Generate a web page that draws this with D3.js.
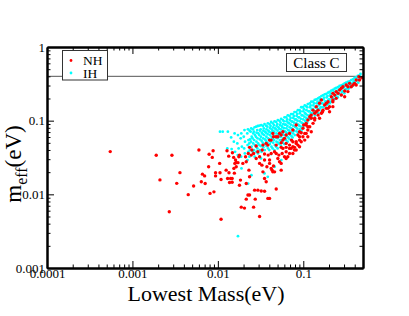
<!DOCTYPE html>
<html>
<head>
<meta charset="utf-8">
<script src="https://cdn.jsdelivr.net/npm/d3@7"></script>
<style>
  html, body { margin: 0; padding: 0; background: #fff; }
  svg { display: block; font-family: "Liberation Serif", "DejaVu Serif", serif; }
</style>
</head>
<body>
<div id="chart"></div>
<script>
// [lowest mass (eV), m_eff (eV)]
const nhPoints = [
  [0.00055,0.038],[0.0019,0.034],[0.0029,0.034],[0.0021,0.0157],[0.0036,0.0197],[0.0033,0.0141],
  [0.0052,0.013],[0.0045,0.0099],[0.0027,0.0058],[0.006,0.040],[0.0079,0.035],[0.0086,0.0317],
  [0.0088,0.039],[0.0078,0.0237],[0.0066,0.0188],[0.0070,0.0178],[0.0064,0.0148],[0.0071,0.014],
  [0.0081,0.0103],[0.009,0.0108],[0.0094,0.0196],[0.0094,0.0178],
  [0.0105,0.0263],[0.0106,0.0196],[0.0109,0.0159],[0.0109,0.0046],[0.0125,0.0213],[0.0128,0.039],
  [0.0134,0.033],[0.0148,0.0366],[0.0153,0.0317],[0.0161,0.0292],[0.0164,0.0271],[0.0158,0.0263],
  [0.0176,0.0324],[0.0154,0.0225],[0.0135,0.0196],[0.013,0.0164],[0.0141,0.0164],[0.0147,0.0164],
  [0.0137,0.0145],
  [0.0179,0.0341],[0.0172,0.0269],[0.0196,0.0263],[0.0164,0.0237],[0.0156,0.0194],[0.0147,0.0146],
  [0.0184,0.0156],[0.0179,0.0133],[0.0215,0.014],[0.0235,0.0173],[0.0231,0.0213],[0.0211,0.0324],
  [0.0227,0.0359],[0.0262,0.0359],[0.0281,0.0307],[0.0294,0.0378],[0.0308,0.0263],[0.0337,0.0202],
  [0.0352,0.0164],[0.0368,0.0148],[0.0328,0.0249],[0.0403,0.0263],[0.0421,0.0225],[0.044,0.0202],
  [0.0482,0.0359],[0.0504,0.0307],[0.0527,0.0277],[0.0551,0.0263],[0.0566,0.0359],[0.0577,0.042],
  [0.063,0.0378],[0.0659,0.0324],[0.069,0.042],[0.0755,0.0443],[0.0789,0.0399],[0.0826,0.0491],
  [0.0728,0.0545],[0.0577,0.0545],[0.0527,0.0672],[0.0482,0.0605],[0.044,0.0672],[0.0403,0.0545],
  [0.0368,0.0491],[0.0337,0.0466],[0.0269,0.0114],[0.0294,0.0114],[0.0322,0.0111],[0.0352,0.011],
  [0.0235,0.0098],[0.0225,0.0098],[0.0215,0.0086],[0.0188,0.0067],[0.0205,0.0065],[0.0262,0.0067],
  [0.0403,0.0088],[0.0308,0.005],[0.0274,0.0086],[0.0482,0.0118],[0.0385,0.0088],
  [0.0235,0.0434],[0.025,0.0399],[0.0281,0.0452],[0.0331,0.0399],[0.0352,0.0352],[0.0403,0.0292],
  [0.0448,0.0242],[0.0432,0.0213],[0.0461,0.0202],[0.0551,0.0213],[0.0603,0.0324],[0.0721,0.042],
  [0.0755,0.0518],[0.0864,0.0638],[0.0904,0.0605],[0.0946,0.0686],[0.099,0.0786],[0.101,0.0872],
  [0.108,0.0919],[0.113,0.102],[0.119,0.113],[0.124,0.119],[0.130,0.139],[0.142,0.155],
  [0.155,0.172],[0.163,0.191],[0.186,0.172],[0.195,0.147],[0.203,0.132],[0.213,0.211],
  [0.222,0.235],[0.243,0.248],[0.266,0.261],[0.279,0.275],[0.291,0.289],[0.318,0.305],
  [0.348,0.321],[0.364,0.289],[0.416,0.356],[0.447,0.396],[0.243,0.201],[0.222,0.181],
  [0.168,0.132],[0.136,0.108],[0.113,0.0828],[0.104,0.0545],[0.0946,0.0518],[0.0789,0.0434],
  [0.0826,0.0399],[0.0755,0.0359],[0.063,0.0307],[0.0375,0.0237],[0.0352,0.0292],[0.0308,0.0324],
  [0.0246,0.0341],[0.0215,0.0277],[0.0385,0.0466],[0.0421,0.0545],[0.0448,0.0605],[0.0504,0.0605],
  [0.0551,0.0502],[0.0482,0.0466],[0.0551,0.0434],[0.063,0.0434],[0.0518,0.0341],[0.0461,0.0378],
  [0.0421,0.0359],[0.0388,0.0341],[0.0826,0.0872],[0.0755,0.0746],[0.069,0.0672],[0.063,0.0638],
  [0.0577,0.0708],[0.0603,0.0575],[0.0551,0.0638],
  [0.381,0.305],[0.333,0.289],[0.305,0.253],[0.255,0.235],[0.233,0.223],[0.195,0.181],
  [0.203,0.155],[0.186,0.147],[0.178,0.163],[0.170,0.139],[0.163,0.126],[0.149,0.119],
  [0.142,0.132],[0.155,0.108],[0.136,0.102],[0.130,0.0919],[0.124,0.108],[0.119,0.0828],
  [0.113,0.0746],[0.108,0.0872],[0.104,0.0672],[0.099,0.0605],[0.0904,0.0545],[0.0904,0.0708],
  [0.0826,0.0518],[0.069,0.0466],[0.113,0.0605],[0.124,0.0708],[0.485,0.381],[0.455,0.356],
  [0.398,0.321],[0.333,0.248],[0.279,0.223],[0.222,0.191],[0.149,0.139],[0.136,0.126],
  [0.0904,0.0443],[0.0864,0.0466],[0.063,0.0491],[0.069,0.0359],[0.222,0.155],[0.108,0.0672],
  [0.305,0.211],[0.416,0.305]
];

const ihPoints = [
  [0.0106,0.0708],[0.0114,0.0708],[0.0131,0.0708],[0.0129,0.0420],[0.0143,0.0593],[0.0145,0.0411],
  [0.0157,0.0672],[0.0154,0.0518],[0.0159,0.0378],
  [0.0172,0.0638],[0.0169,0.0491],[0.0175,0.0420],[0.0171,0.0341],
  [0.0188,0.0672],[0.0185,0.0575],[0.0191,0.0443],[0.0187,0.0324],[0.0189,0.0225],
  [0.0205,0.0746],[0.0201,0.0605],[0.0208,0.0518],[0.0203,0.0420],[0.0207,0.0359],
  [0.0225,0.0762],[0.0221,0.0672],[0.0228,0.0545],[0.0223,0.0466],[0.0227,0.0378],[0.0222,0.0292],[0.0226,0.0140],
  [0.0246,0.0786],[0.0242,0.0708],[0.0249,0.0605],[0.0244,0.0518],[0.0248,0.0443],[0.0243,0.0341],[0.0247,0.0182],
  [0.0269,0.0811],[0.0264,0.0708],[0.0272,0.0638],[0.0266,0.0545],[0.0271,0.0466],[0.0265,0.0399],[0.0270,0.0324],
  [0.0294,0.0846],[0.0289,0.0746],[0.0298,0.0672],[0.0291,0.0575],[0.0296,0.0491],[0.0290,0.0420],[0.0295,0.0359],
  [0.0322,0.0872],[0.0317,0.0762],[0.0326,0.0686],[0.0319,0.0605],[0.0325,0.0534],[0.0318,0.0452],[0.0324,0.0378],[0.0320,0.0307],
  [0.0352,0.0900],[0.0346,0.0786],[0.0357,0.0708],[0.0349,0.0638],[0.0355,0.0557],[0.0348,0.0481],[0.0354,0.0399],[0.0351,0.0192],
  [0.0385,0.0919],[0.0379,0.0828],[0.0390,0.0731],[0.0382,0.0659],[0.0388,0.0575],[0.0380,0.0502],[0.0387,0.0420],[0.0384,0.0173],
  [0.0421,0.0960],[0.0414,0.0846],[0.0427,0.0762],[0.0417,0.0686],[0.0425,0.0605],[0.0416,0.0518],[0.0424,0.0443],[0.0419,0.0352],
  [0.0461,0.0979],[0.0453,0.0872],[0.0467,0.0786],[0.0457,0.0708],[0.0465,0.0619],[0.0455,0.0545],[0.0464,0.0466],[0.0458,0.0399],[0.0462,0.0237],
  [0.0504,0.102],[0.0496,0.0900],[0.0511,0.0811],[0.0499,0.0731],[0.0509,0.0652],[0.0497,0.0575],[0.0507,0.0502],[0.0501,0.0420],
  [0.0551,0.106],[0.0542,0.0940],[0.0558,0.0846],[0.0546,0.0762],[0.0556,0.0686],[0.0544,0.0605],[0.0555,0.0534],[0.0548,0.0452],[0.0553,0.0292],
  [0.0603,0.111],[0.0594,0.0979],[0.0611,0.0881],[0.0597,0.0794],[0.0609,0.0716],[0.0596,0.0638],[0.0608,0.0557],[0.0600,0.0481],
  [0.0659,0.118],[0.0648,0.104],[0.0668,0.0940],[0.0652,0.0846],[0.0665,0.0746],[0.0650,0.0672],[0.0664,0.0593],[0.0655,0.0518],
  [0.0721,0.123],[0.0710,0.109],[0.0731,0.0979],[0.0714,0.0881],[0.0728,0.0786],[0.0712,0.0701],[0.0727,0.0619],[0.0716,0.0545],
  [0.0789,0.131],[0.0776,0.116],[0.0800,0.104],[0.0781,0.0940],[0.0797,0.0828],[0.0779,0.0731],[0.0795,0.0638],
  [0.0864,0.139],[0.0850,0.123],[0.0876,0.111],[0.0855,0.100],[0.0873,0.0881],[0.0852,0.0778],[0.0870,0.0686],
  [0.0946,0.152],[0.0930,0.134],[0.0959,0.118],[0.0936,0.106],[0.0955,0.0940],[0.0933,0.0828],[0.0952,0.0731],
  [0.104,0.161],[0.102,0.143],[0.105,0.126],[0.103,0.113],[0.105,0.100],[0.102,0.0881],
  [0.113,0.168],[0.111,0.152],[0.115,0.134],[0.112,0.119],[0.114,0.106],[0.111,0.0940],
  [0.124,0.181],[0.122,0.161],[0.126,0.143],[0.123,0.126],[0.125,0.111],
  [0.136,0.191],[0.134,0.172],[0.138,0.152],[0.135,0.134],[0.137,0.118],
  [0.149,0.201],[0.147,0.181],[0.151,0.161],[0.148,0.143],[0.150,0.126],
  [0.163,0.216],[0.160,0.195],[0.165,0.172],[0.161,0.152],[0.164,0.135],
  [0.178,0.228],[0.175,0.205],[0.180,0.181],[0.176,0.161],
  [0.195,0.240],[0.192,0.216],[0.197,0.191],[0.193,0.168],
  [0.213,0.255],[0.210,0.230],[0.216,0.203],[0.211,0.181],
  [0.233,0.272],[0.229,0.245],[0.236,0.216],[0.231,0.195],
  [0.255,0.284],[0.251,0.255],[0.258,0.230],[0.253,0.207],
  [0.279,0.302],[0.275,0.272],[0.283,0.245],[0.277,0.221],
  [0.305,0.321],[0.300,0.289],[0.309,0.261],[0.302,0.235],
  [0.333,0.335],[0.328,0.302],[0.337,0.272],
  [0.364,0.356],[0.359,0.321],[0.368,0.289],
  [0.398,0.380],[0.392,0.342],[0.402,0.308],
  [0.435,0.404],[0.429,0.364],[0.440,0.328],
  [0.467,0.430],[0.462,0.387],
  [0.0172,0.0027],
  // second pass, between the columns above
  [0.0235,0.0731],[0.0238,0.0557],[0.0233,0.0491],[0.0237,0.0399],[0.0234,0.0324],
  [0.0257,0.0762],[0.0260,0.0672],[0.0255,0.0575],[0.0259,0.0491],[0.0256,0.0378],
  [0.0281,0.0828],[0.0284,0.0686],[0.0279,0.0605],[0.0283,0.0518],[0.0280,0.0443],[0.0282,0.0378],
  [0.0308,0.0855],[0.0311,0.0731],[0.0305,0.0638],[0.0310,0.0557],[0.0306,0.0466],[0.0309,0.0399],
  [0.0337,0.0846],[0.0341,0.0731],[0.0334,0.0659],[0.0339,0.0575],[0.0335,0.0502],[0.0340,0.0434],
  [0.0368,0.0855],[0.0372,0.0762],[0.0365,0.0686],[0.0370,0.0605],[0.0366,0.0534],[0.0371,0.0452],
  [0.0403,0.0900],[0.0407,0.0794],[0.0399,0.0708],[0.0405,0.0638],[0.0401,0.0557],[0.0406,0.0481],[0.0400,0.0399],
  [0.0440,0.0919],[0.0445,0.0811],[0.0436,0.0731],[0.0443,0.0659],[0.0438,0.0575],[0.0444,0.0502],[0.0437,0.0420],
  [0.0482,0.0960],[0.0487,0.0846],[0.0478,0.0762],[0.0485,0.0672],[0.0479,0.0593],[0.0486,0.0518],[0.0480,0.0443],
  [0.0527,0.0995],[0.0533,0.0872],[0.0522,0.0778],[0.0530,0.0701],[0.0524,0.0619],[0.0531,0.0545],[0.0525,0.0481],
  [0.0577,0.102],[0.0583,0.0900],[0.0571,0.0811],[0.0580,0.0731],[0.0574,0.0659],[0.0581,0.0575],[0.0573,0.0502],
  [0.0630,0.111],[0.0637,0.0979],[0.0624,0.0881],[0.0634,0.0786],[0.0626,0.0701],[0.0635,0.0619],[0.0627,0.0545],
  [0.0690,0.116],[0.0697,0.102],[0.0683,0.0919],[0.0694,0.0811],[0.0686,0.0731],[0.0695,0.0645],[0.0685,0.0569],
  [0.0755,0.123],[0.0763,0.109],[0.0747,0.0970],[0.0760,0.0855],[0.0750,0.0762],[0.0761,0.0672],[0.0749,0.0593],
  [0.0826,0.131],[0.0835,0.116],[0.0818,0.104],[0.0831,0.0919],[0.0820,0.0811],[0.0833,0.0716],
  [0.0904,0.139],[0.0914,0.126],[0.0895,0.111],[0.0910,0.0979],[0.0898,0.0855],[0.0911,0.0762],
  [0.099,0.152],[0.100,0.134],[0.098,0.118],[0.0997,0.104],[0.0982,0.0919],[0.0995,0.0811],
  [0.108,0.158],[0.109,0.139],[0.107,0.123],[0.1085,0.109],[0.1072,0.096],
  [0.119,0.172],[0.120,0.152],[0.118,0.134],[0.1195,0.118],[0.1178,0.104],
  [0.130,0.181],[0.131,0.161],[0.129,0.143],[0.1305,0.126],
  [0.142,0.195],[0.143,0.172],[0.141,0.152],[0.1425,0.134],
  [0.155,0.207],[0.157,0.187],[0.154,0.165],[0.156,0.146],
  [0.170,0.221],[0.172,0.195],[0.168,0.172],[0.171,0.152],
  [0.186,0.230],[0.188,0.207],[0.184,0.183],[0.187,0.161],
  [0.203,0.245],[0.205,0.221],[0.201,0.195],[0.204,0.172],
  [0.222,0.261],[0.224,0.235],[0.220,0.207],
  [0.243,0.278],[0.246,0.248],[0.241,0.221],
  [0.266,0.296],[0.269,0.267],[0.263,0.235],
  [0.291,0.308],[0.294,0.278],[0.288,0.250],
  [0.318,0.328],[0.322,0.296],[0.315,0.267],
  [0.348,0.342],[0.352,0.308],[0.345,0.278],
  [0.381,0.364],[0.385,0.328],[0.377,0.296],
  [0.416,0.387],[0.420,0.349],[0.412,0.315],
  [0.455,0.412],[0.459,0.372]
];

const xDomain = [0.0001, 0.5];
const yDomain = [0.001, 1];
const xTicks = [0.0001, 0.001, 0.01, 0.1];
const xTickLabels = ['0.0001', '0.001', '0.01', '0.1'];
const yTicks = [0.001, 0.01, 0.1, 1];
const yTickLabels = ['0.001', '0.01', '0.1', '1'];
const upperLimit = 0.4;
const legendLabels = ['NH', 'IH'];
const legendColors = ['#ff0000', '#00ffff'];
const classLabel = 'Class C';

const width = 409, height = 316;
const plot = { left: 47, right: 363, top: 47, bottom: 268 };

const svg = d3.select('#chart').append('svg')
  .attr('width', width)
  .attr('height', height);

const x = d3.scaleLog().domain(xDomain).range([plot.left, plot.right]);
const y = d3.scaleLog().domain(yDomain).range([plot.bottom, plot.top]);

const isMajor = v => Math.abs(Math.log10(v) - Math.round(Math.log10(v))) < 1e-9;
const xMinor = x.ticks().filter(v => !isMajor(v));
const yMinor = y.ticks().filter(v => !isMajor(v));

function styleAxis(g) {
  g.select('.domain').attr('stroke', '#000').attr('stroke-width', 2);
  g.selectAll('.tick line').attr('stroke', '#000').attr('stroke-width', 1);
  g.selectAll('.tick text')
    .attr('fill', '#000')
    .style('font-family', '"Liberation Serif", serif')
    .style('font-size', '13px');
}

// limit line
svg.append('line')
  .attr('x1', plot.left).attr('x2', plot.right)
  .attr('y1', y(upperLimit)).attr('y2', y(upperLimit))
  .attr('stroke', '#555').attr('stroke-width', 1);

// scatter: IH first, NH on top
svg.append('g').selectAll('circle')
  .data(ihPoints)
  .join('circle')
  .attr('cx', d => x(d[0]))
  .attr('cy', d => y(d[1]))
  .attr('r', 1.4)
  .attr('fill', legendColors[1]);

svg.append('g').selectAll('circle')
  .data(nhPoints)
  .join('circle')
  .attr('cx', d => x(d[0]))
  .attr('cy', d => y(d[1]))
  .attr('r', 1.7)
  .attr('fill', legendColors[0]);

// minor ticks on all four sides
const tickMajor = 7, tickMinor = 3.5;
[
  [d3.axisBottom(x), plot.bottom, 'x'],
  [d3.axisTop(x), plot.top, 'x'],
  [d3.axisLeft(y), plot.left, 'y'],
  [d3.axisRight(y), plot.right, 'y']
].forEach(([axis, pos, dim]) => {
  const tr = dim === 'x' ? `translate(0,${pos})` : `translate(${pos},0)`;
  svg.append('g').attr('transform', tr)
    .call(axis.tickValues(dim === 'x' ? xMinor : yMinor).tickSizeInner(-tickMinor).tickSizeOuter(0).tickFormat(''))
    .call(styleAxis);
});

// major ticks with labels
svg.append('g').attr('transform', `translate(0,${plot.bottom})`)
  .call(d3.axisBottom(x).tickValues(xTicks).tickSizeInner(-tickMajor).tickSizeOuter(0)
    .tickPadding(1).tickFormat((d, i) => xTickLabels[i]))
  .call(styleAxis);

svg.append('g').attr('transform', `translate(0,${plot.top})`)
  .call(d3.axisTop(x).tickValues(xTicks).tickSizeInner(-tickMajor).tickSizeOuter(0).tickFormat(''))
  .call(styleAxis);

svg.append('g').attr('transform', `translate(${plot.left},0)`)
  .call(d3.axisLeft(y).tickValues(yTicks).tickSizeInner(-tickMajor).tickSizeOuter(0)
    .tickPadding(2).tickFormat((d, i) => yTickLabels[i]))
  .call(styleAxis);

svg.append('g').attr('transform', `translate(${plot.right},0)`)
  .call(d3.axisRight(y).tickValues(yTicks).tickSizeInner(-tickMajor).tickSizeOuter(0).tickFormat(''))
  .call(styleAxis);

// axis titles
svg.append('text')
  .attr('x', (plot.left + plot.right) / 2 + 1)
  .attr('y', 301)
  .attr('text-anchor', 'middle')
  .attr('font-size', '22px')
  .attr('fill', '#000')
  .text('Lowest Mass(eV)');

const yTitle = svg.append('text')
  .attr('transform', 'translate(20.5,164) rotate(-90)')
  .attr('text-anchor', 'middle')
  .attr('font-size', '23px')
  .attr('fill', '#000');
yTitle.append('tspan').text('m');
yTitle.append('tspan').attr('font-size', '16px').attr('dy', 6).text('eff');
yTitle.append('tspan').attr('dy', -6).text('(eV)');

// legend
const legend = svg.append('g');
legend.append('rect')
  .attr('x', 62.5).attr('y', 50.5)
  .attr('width', 45).attr('height', 29.5)
  .attr('fill', '#fff').attr('stroke', '#333').attr('stroke-width', 1);

legendLabels.forEach((label, i) => {
  const cy = 60.5 + i * 12.5;
  legend.append('circle')
    .attr('cx', 71).attr('cy', cy)
    .attr('r', 1.4)
    .attr('fill', legendColors[i]);
  legend.append('text')
    .attr('x', 83).attr('y', cy + 4.5)
    .attr('font-size', '13.5px')
    .attr('fill', '#000')
    .text(label);
});

// class tag
svg.append('rect')
  .attr('x', 286.5).attr('y', 53.5)
  .attr('width', 60).attr('height', 18)
  .attr('fill', '#fff').attr('stroke', '#333').attr('stroke-width', 1);

svg.append('text')
  .attr('x', 316.5).attr('y', 67.5)
  .attr('text-anchor', 'middle')
  .attr('font-size', '15px')
  .attr('fill', '#000')
  .text(classLabel);
</script>
</body>
</html>
